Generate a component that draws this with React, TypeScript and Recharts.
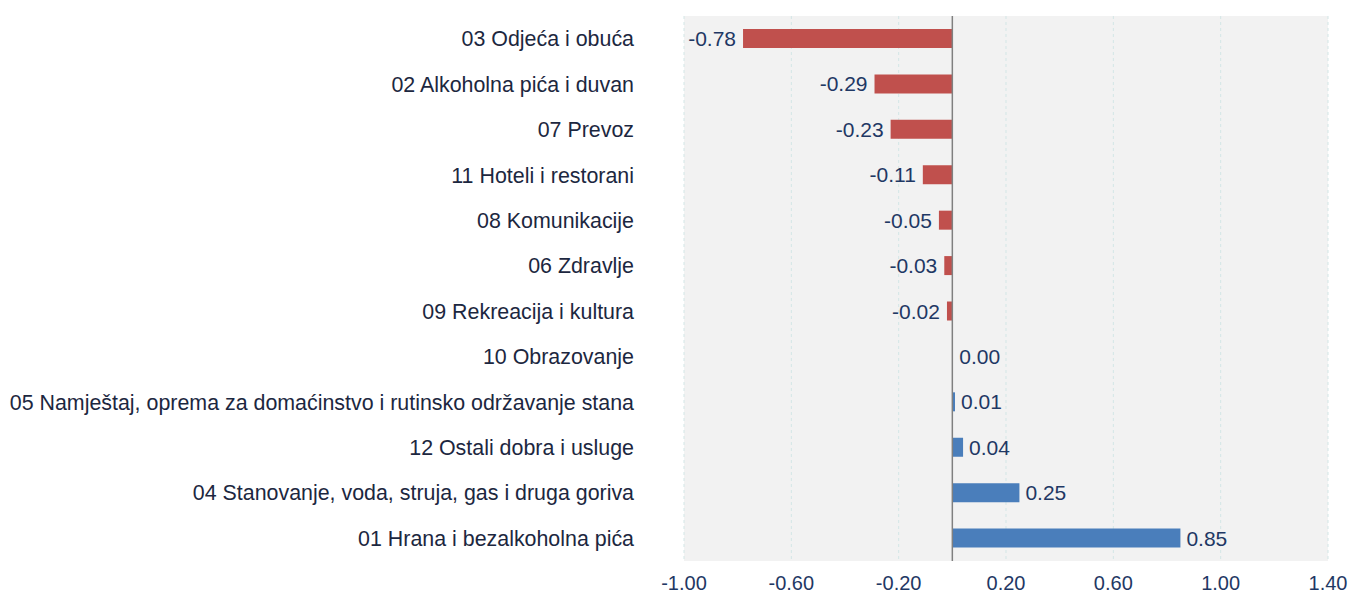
import React from "react";
import { BarChart, Bar, XAxis, YAxis, CartesianGrid, ReferenceLine, Cell, LabelList } from "recharts";

const categories = [
  "03 Odjeća i obuća",
  "02 Alkoholna pića i duvan",
  "07 Prevoz",
  "11 Hoteli i restorani",
  "08 Komunikacije",
  "06 Zdravlje",
  "09 Rekreacija i kultura",
  "10 Obrazovanje",
  "05 Namještaj, oprema za domaćinstvo i rutinsko održavanje stana",
  "12 Ostali dobra i usluge",
  "04 Stanovanje, voda, struja, gas i druga goriva",
  "01 Hrana i bezalkoholna pića",
];
const values = [-0.78, -0.29, -0.23, -0.11, -0.05, -0.03, -0.02, 0.0, 0.01, 0.04, 0.25, 0.85];
const xTicks = [-1.0, -0.6, -0.2, 0.2, 0.6, 1.0, 1.4];

const data = categories.map((name, i) => ({ name, value: values[i] }));

const FONT = "'Liberation Sans', Arial, sans-serif";
const NAVY = "#1F3864";

const ValueLabel = (props: any) => {
  const { x, y, width, height, value } = props;
  const neg = value < 0;
  const realX = neg ? Math.min(x, x + width) - 7 : Math.max(x, x + width) + 6;
  return (
    <text
      x={realX}
      y={y + height / 2 + 2}
      textAnchor={neg ? "end" : "start"}
      dominantBaseline="middle"
      fill={NAVY}
      fontSize={21}
      fontFamily={FONT}
    >
      {Number(value).toFixed(2)}
    </text>
  );
};

export default function App() {
  return (
    <div style={{ position: "absolute", left: 0, top: 0 }}>
      <BarChart
        width={1351}
        height={597}
        data={data}
        layout="vertical"
        margin={{ top: 16, right: 23, left: 0, bottom: 0 }}
        barSize={19}
      >
        <CartesianGrid
          horizontal={false}
          vertical={true}
          strokeDasharray="3 3"
          stroke="#D3E6E6"
          fill="#F2F2F2"
        />
        <XAxis
          type="number"
          domain={[-1, 1.4]}
          ticks={xTicks}
          tickFormatter={(v: number) => v.toFixed(2)}
          axisLine={false}
          tickLine={false}
          tickSize={0}
          tickMargin={15}
          height={36}
          interval={0}
          tick={{ fill: NAVY, fontSize: 20, fontFamily: FONT }}
        />
        <YAxis
          type="category"
          dataKey="name"
          width={684}
          axisLine={false}
          tickLine={false}
          tickSize={0}
          tickMargin={50}
          interval={0}
          tick={{ fill: "#1c2740", fontSize: 21.4, fontFamily: FONT }}
        />
        <Bar dataKey="value" isAnimationActive={false} minPointSize={1}>
          {data.map((d, i) => (
            <Cell
              key={i}
              fill={d.value < 0 ? "#C0504D" : d.value === 0 ? "transparent" : "#4A7EBB"}
            />
          ))}
          <LabelList dataKey="value" content={ValueLabel} />
        </Bar>
        <ReferenceLine x={0} stroke="#808080" strokeWidth={1.5} />
      </BarChart>
    </div>
  );
}
